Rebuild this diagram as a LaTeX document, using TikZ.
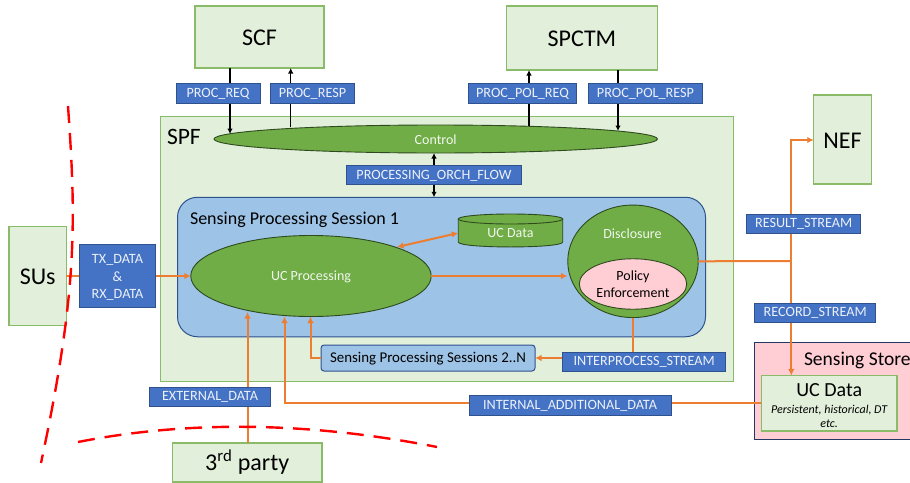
\documentclass[tikz,border=0pt]{standalone}
\usepackage{fontspec}
\setmainfont{Carlito}
\usetikzlibrary{shapes.geometric,arrows.meta}
\definecolor{gfill}{HTML}{E2EFDA}
\definecolor{gline}{HTML}{8ABB68}
\definecolor{lab}{HTML}{4472C4}
\definecolor{labline}{HTML}{2F528F}
\definecolor{sess}{HTML}{9DC3E6}
\definecolor{oval}{HTML}{70AD47}
\definecolor{ovalline}{HTML}{2E4A1E}
\definecolor{orng}{HTML}{ED7D31}
\definecolor{pink}{HTML}{FFCDD4}
\tikzset{
  x=1pt,y=-1pt,
  every node/.style={inner sep=0pt,outer sep=0pt,align=center},
  gbox/.style={draw=gline,fill=gfill,line width=1.2pt,text=black,font=\fontsize{24}{27}\selectfont},
  tagbase/.style={draw=labline,fill=lab,line width=1pt,text=white!90!lab,font=\fontsize{14.2}{17.5}\selectfont},
  tag/.style={tagbase,text height=9.5pt,text depth=1.5pt},
  oval/.style={ellipse,draw=ovalline,fill=oval,line width=.9pt,text=white!90!oval,font=\fontsize{14}{16}\selectfont},
  flow/.style={draw=orng,line width=2pt,-{Latex[length=6.5pt,width=6.5pt]}},
  flowplain/.style={draw=orng,line width=2pt},
  ctl/.style={draw=black,line width=1.1pt,-{Latex[length=5.5pt,width=5.5pt]}},
  border/.style={draw=red,line width=2.4pt,dash pattern=on 17pt off 10pt},
}
\begin{document}
\begin{tikzpicture}
\useasboundingbox (0,0) rectangle (910,482);
\clip (0,0) rectangle (910,482);
% containers
\node[gbox,minimum width=573,minimum height=265] (spf) at (447,249) {};
\node[font=\fontsize{23.5}{26}\selectfont,anchor=west] (spftxt) at (167,137) {SPF};
\node[draw=labline,fill=sess,line width=1pt,rounded corners=20pt,minimum width=528,minimum height=139.5] (session) at (441.5,267) {};
\node[font=\fontsize{18}{20}\selectfont,anchor=west] (sesstxt) at (190,220) {Sensing Processing Session 1};
\node[gbox,minimum width=129,minimum height=62,text height=17pt] (scf) at (259.5,37) {SCF};
\node[gbox,minimum width=151.5,minimum height=64,text height=17pt] (spctm) at (582,38) {SPCTM};
\node[gbox,minimum width=57.5,minimum height=89,text height=17pt] (nef) at (842.5,139.5) {NEF};
\node[gbox,minimum width=57.5,minimum height=99.5,text height=17pt] (sus) at (37.7,276) {SUs};
\node[gbox,minimum width=149.5,minimum height=39] (third) at (247.2,462.5) {3\textsuperscript{rd} party};
\node[draw=labline!70!black,fill=pink,line width=1pt,minimum width=170,minimum height=97] (store) at (839.7,390.5) {};
\node[font=\fontsize{19.5}{24}\selectfont,anchor=base west] (storetxt) at (804,365) {Sensing Store};
\node[gbox,minimum width=135.5,minimum height=55.5] (ucstore) at (829.2,403.2) {};
\node[font=\fontsize{20}{23}\selectfont] (ucstoretxt) at (829.2,390) {UC Data};
\node[font=\fontsize{12}{14}\selectfont\itshape] (ucstorenote) at (829.2,416) {Persistent, historical, DT\\etc.};
% ovals
\node[oval,minimum width=443.5,minimum height=28,text height=11pt] (control) at (435.7,139) {Control};
\node[oval,minimum width=240.5,minimum height=81,text height=11pt] (proc) at (311,276) {UC Processing};
\coordinate (cyltl) at (458.25,219);
\coordinate (cylbl) at (458.25,242);
\coordinate (cylbr) at (562.75,242);
\coordinate (cyltr) at (562.75,219);
\draw[draw=ovalline,fill=oval,line width=.9pt] (cyltl) -- (cylbl) .. controls (458.25,248.6) and (562.75,248.6) .. (cylbr) -- (cyltr) -- cycle;
\node[ellipse,draw=ovalline,fill=oval,line width=.9pt,minimum width=104.5,minimum height=10] (cyltop) at (510.5,219) {};
\node[minimum width=104.5,minimum height=33,text=white!90!oval,font=\fontsize{14}{16}\selectfont] (cyl) at (510.5,233) {UC Data};
\node[oval,minimum width=130.5,minimum height=112.5] (disc) at (633,261.3) {};
\node[text=white!90!oval,font=\fontsize{14}{16}\selectfont] (disctxt) at (632.5,233.5) {Disclosure};
\node[ellipse,draw=ovalline,fill=pink,line width=.9pt,minimum width=107.5,minimum height=50.5,text=black,font=\fontsize{14}{17}\selectfont] (policy) at (633,284) {Policy\\Enforcement};
\node[draw=labline,fill=sess,line width=1pt,rounded corners=3pt,minimum width=214,minimum height=26,font=\fontsize{14.9}{16}\selectfont,text height=10.5pt,text depth=2.5pt] (more) at (428,358) {Sensing Processing Sessions 2..N};
% connector ends
\coordinate (reqin) at (230,134);
\coordinate (respout) at (290.7,127);
\coordinate (polreqout) at (529,126);
\coordinate (polrespin) at (618,131);
\coordinate (extin) at (247.5,312);
\coordinate (intin) at (284.5,316.5);
\coordinate (morein) at (310.5,316.5);
\coordinate (intcorner) at (284.5,403);
\coordinate (morecorner) at (310.5,358);
\coordinate (cylproc) at (397,247);
\coordinate (trunk) at (791.3,261);
\coordinate (nefcorner) at (791.3,140);
\coordinate (procout) at (431,276);
\coordinate (discin) at (567.5,276);
\coordinate (orch) at (434,175);
\coordinate (interp) at (633,358);
% control flows
\draw[ctl] (scf.south -| reqin) -- (reqin);
\draw[ctl] (respout) -- (scf.south -| respout);
\draw[ctl] (polreqout) -- (spctm.south -| polreqout);
\draw[ctl] (spctm.south -| polrespin) -- (polrespin);
\draw[ctl,{Latex[length=5.5pt,width=5.5pt]}-{Latex[length=5.5pt,width=5.5pt]}] (session.north -| orch) -- (control.south -| orch);
% data flows
\draw[flow] (sus.east) -- (proc.west);
\draw[flow] (third.north -| extin) -- (extin);
\draw[flow] (ucstore.west |- intcorner) -- (intcorner) -- (intin);
\draw[flow] (more.west) -- (morecorner) -- (morein);
\draw[flow,{Latex[length=6.5pt,width=6.5pt]}-{Latex[length=6.5pt,width=6.5pt]}] (cylproc) -- (cyl.west);
\draw[flow] (procout) -- (discin);
\draw[flowplain] (disc.east) -- (trunk);
\draw[flow] (trunk) -- (nefcorner) -- (nef.west |- nefcorner);
\draw[flow] (trunk) -- (ucstore.north -| trunk);
\draw[flowplain] (disc.south) -- (interp);
\draw[flow] (interp) -- (more.east);
% tags
\node[tag,minimum width=84,minimum height=19.5] (t1) at (218,93.5) {PROC\_REQ};
\node[tag,minimum width=84.5,minimum height=19.5] (t2) at (312.5,93.5) {PROC\_RESP};
\node[tag,minimum width=107.5,minimum height=19.5] (t3) at (522.5,93.5) {PROC\_POL\_REQ};
\node[tag,minimum width=114.5,minimum height=19.5] (t4) at (645.5,93.5) {PROC\_POL\_RESP};
\node[tag,minimum width=175,minimum height=19.5] (t5) at (434,175) {PROCESSING\_ORCH\_FLOW};
\node[tagbase,minimum width=75.5,minimum height=62.5] (t6) at (117.5,276) {};
\node[text=white!90!lab,font=\fontsize{14.2}{17.5}\selectfont] (t6txt) at (117.5,277.5) {TX\_DATA\\\&\\RX\_DATA};
\node[tag,minimum width=121,minimum height=19] (t7) at (210,396.5) {EXTERNAL\_DATA};
\node[tag,minimum width=202,minimum height=20] (t8) at (570,405) {INTERNAL\_ADDITIONAL\_DATA};
\node[tag,minimum width=113.5,minimum height=19] (t9) at (803.7,223.5) {RESULT\_STREAM};
\node[tag,minimum width=121.5,minimum height=19] (t10) at (815.2,312.5) {RECORD\_STREAM};
\node[tag,minimum width=163,minimum height=19] (t11) at (644.2,361.5) {INTERPROCESS\_STREAM};
% red boundaries
\coordinate (la) at (68,106);
\coordinate (lb) at (41,463);
\coordinate (ba) at (78,442);
\coordinate (bb) at (437,447);
\draw[border] (la) .. controls (76,220) and (78,290) .. (lb);
\draw[border] (ba) .. controls (190,420) and (310,422) .. (bb);
\end{tikzpicture}
\end{document}
